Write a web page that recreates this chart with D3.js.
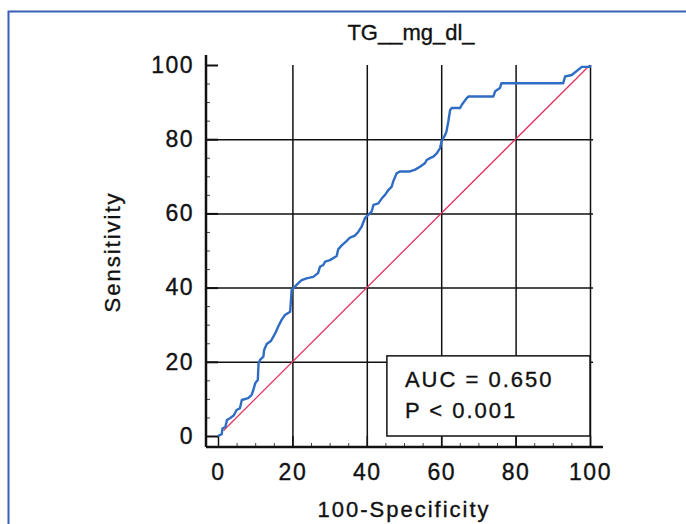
<!DOCTYPE html>
<html>
<head>
<meta charset="utf-8">
<script src="https://cdn.jsdelivr.net/npm/d3@7"></script>
<style>
  html, body { margin: 0; padding: 0; background: #fff; }
  svg { display: block; }
  text { font-family: "Liberation Sans", Arial, sans-serif; fill: #111; stroke: #111; stroke-width: 0.35px; }
</style>
</head>
<body>
<svg id="chart" width="686" height="524"></svg>
<script>
  // chart values
  var title = "TG__mg_dl_";
  var xLabel = "100-Specificity";
  var yLabel = "Sensitivity";
  var majorTicks = [0, 20, 40, 60, 80, 100];
  var gridTicks = [20, 40, 60, 80];
  var aucLines = ["AUC = 0.650", "P < 0.001"];

  // ROC curve (100-specificity, sensitivity)
  var fpr = [0, 1, 1.2, 2, 2.4, 3.2, 4.2, 5, 5.9, 6.4, 8.1, 9, 9.5, 10, 10.7, 10.9, 11.3, 12.2, 12.4,
    13.1, 14.2, 15.3, 16.2, 17.1, 18, 19.4, 19.8, 20.2, 21.6, 22.5, 23.8, 25.6, 26.9, 27.4, 28.3,
    28.8, 30.1, 31.9, 32.3, 33.2, 34.6, 35.5, 36.8, 37.7, 38.6, 39.5, 40.4, 41.3, 41.8, 43.1, 44,
    44.9, 45.8, 46.7, 47.1, 48, 48.9, 51.6, 53, 54.3, 55.6, 56.1, 57, 57.9, 58.8, 59.7, 60.1, 61,
    61.4, 61.9, 62.4, 62.8, 65.1, 65.5, 66.8, 67.3, 74, 74.5, 75.8, 76.2, 92.8, 93.3, 95.1, 97.3,
    97.8, 100, 100];
  var tpr = [0, 0.5, 2, 2.5, 4.3, 4.8, 5.5, 7, 7.5, 9.7, 10.2, 11, 12.4, 14.2, 15.1, 19.6, 20.5, 21.4, 23.2,
    24.8, 25.6, 27.5, 29.5, 31.3, 32.6, 33.5, 39.4, 39.8, 41.2, 42, 42.5, 42.9, 43.9, 45.6, 46.1,
    47, 47.4, 48.5, 50.3, 51.3, 52.6, 53.5, 54, 55, 56.4, 58.7, 59.6, 60.5, 62.3, 62.7, 64,
    65, 66.3, 67.2, 68.6, 70.8, 71.3, 71.3, 71.8, 72.6, 73.5, 74.4, 74.9, 75.3, 76.2, 77.6, 79.5, 81,
    82, 84.7, 87.9, 88.4, 88.4, 89.2, 91, 91.5, 91.5, 92.9, 93.8, 95.1, 95.1, 96.9, 97.3, 99.1,
    99.5, 99.5, 100];

  var svg = d3.select("#chart");

  var x = d3.scaleLinear().domain([0, 100]).range([218, 590]);
  var y = d3.scaleLinear().domain([0, 100]).range([436, 65]);
  var axisX = 206, axisY = 447; // offset axis lines

  // outer frame
  svg.append("path")
    .attr("d", "M8.5,524V11.5H686")
    .attr("fill", "none")
    .attr("stroke", "#3b5fb5")
    .attr("stroke-width", 2);

  // title
  svg.append("text")
    .attr("x", 411).attr("y", 40)
    .attr("text-anchor", "middle")
    .style("font-size", "22px")
    .text(title);

  // vertical grid lines
  svg.append("g")
    .attr("transform", "translate(0," + axisY + ")")
    .call(d3.axisBottom(x).tickValues([20, 40, 60, 80, 100]).tickSize(-(axisY - y(100))).tickFormat(""))
    .call(function (g) { g.select(".domain").remove(); })
    .selectAll("line").attr("stroke", "#111").attr("stroke-width", 1.5);

  // horizontal grid lines
  svg.append("g")
    .attr("transform", "translate(" + axisX + ",0)")
    .call(d3.axisLeft(y).tickValues(gridTicks).tickSize(-(x(100) + 3 - axisX)).tickFormat(""))
    .call(function (g) { g.select(".domain").remove(); })
    .selectAll("line").attr("stroke", "#111").attr("stroke-width", 1.5);

  // minor ticks
  var minor = d3.range(5, 100, 5).filter(function (d) { return d % 20 !== 0; });
  svg.append("g")
    .attr("transform", "translate(" + axisX + ",0)")
    .call(d3.axisLeft(y).tickValues(minor).tickSize(-4).tickFormat(""))
    .call(function (g) { g.select(".domain").remove(); })
    .selectAll("line").attr("stroke", "#444").attr("stroke-width", 1);
  svg.append("g")
    .attr("transform", "translate(0," + axisY + ")")
    .call(d3.axisBottom(x).tickValues(minor).tickSize(-4).tickFormat(""))
    .call(function (g) { g.select(".domain").remove(); })
    .selectAll("line").attr("stroke", "#444").attr("stroke-width", 1);

  // y axis: ticks and labels
  var gy = svg.append("g")
    .attr("transform", "translate(" + axisX + ",0)")
    .call(d3.axisLeft(y).tickValues(majorTicks).tickSize(-(x(0) - axisX)).tickPadding(12))
    .call(function (g) { g.select(".domain").remove(); });
  gy.selectAll("line").attr("stroke", "#111").attr("stroke-width", 2);
  gy.selectAll("text").attr("fill", "#111")
    .style("font-size", "23px").style("letter-spacing", "1.5px")
    .style("font-family", "'Liberation Sans', Arial, sans-serif");

  // x axis: ticks and labels
  var gx = svg.append("g")
    .attr("transform", "translate(0," + axisY + ")")
    .call(d3.axisBottom(x).tickValues(majorTicks).tickSize(-(axisY - y(0))).tickPadding(17))
    .call(function (g) { g.select(".domain").remove(); });
  gx.selectAll("line").attr("stroke", "#111").attr("stroke-width", 1.5);
  gx.selectAll("text").attr("fill", "#111")
    .style("font-size", "23px").style("letter-spacing", "1.5px")
    .style("font-family", "'Liberation Sans', Arial, sans-serif");

  // axis lines
  svg.append("line")
    .attr("x1", axisX).attr("x2", axisX).attr("y1", 55).attr("y2", axisY)
    .attr("stroke", "#111").attr("stroke-width", 2.5);
  svg.append("line")
    .attr("x1", axisX).attr("x2", 603).attr("y1", axisY).attr("y2", axisY)
    .attr("stroke", "#111").attr("stroke-width", 2.5);

  // diagonal reference line
  svg.append("line")
    .attr("x1", x(1.5)).attr("y1", y(1.5))
    .attr("x2", x(100)).attr("y2", y(100))
    .attr("stroke", "#e2335e").attr("stroke-width", 1.3);

  // ROC curve
  var line = d3.line()
    .x(function (d, i) { return x(fpr[i]); })
    .y(function (d, i) { return y(tpr[i]); });
  svg.append("path")
    .attr("d", line(fpr))
    .attr("fill", "none")
    .attr("stroke", "#2f6cc4")
    .attr("stroke-width", 2.4)
    .attr("stroke-linejoin", "round");

  // AUC box
  svg.append("rect")
    .attr("x", x(45.4)).attr("y", y(21.6))
    .attr("width", x(100) - x(45.4)).attr("height", y(0) - y(21.6))
    .attr("fill", "#fff").attr("stroke", "#111").attr("stroke-width", 1.5);
  svg.selectAll(".auc")
    .data(aucLines)
    .enter().append("text")
    .attr("class", "auc")
    .attr("x", x(45.4) + 18)
    .attr("y", function (d, i) { return y(21.6) + 31 + i * 31; })
    .style("font-size", "22px").style("letter-spacing", "2px")
    .text(function (d) { return d; });

  // axis titles
  svg.append("text")
    .attr("x", 404).attr("y", 517)
    .attr("text-anchor", "middle")
    .style("font-size", "22px").style("letter-spacing", "2px")
    .text(xLabel);
  svg.append("text")
    .attr("transform", "translate(120,252) rotate(-90)")
    .attr("text-anchor", "middle")
    .style("font-size", "22px").style("letter-spacing", "2px")
    .text(yLabel);
</script>
</body>
</html>
